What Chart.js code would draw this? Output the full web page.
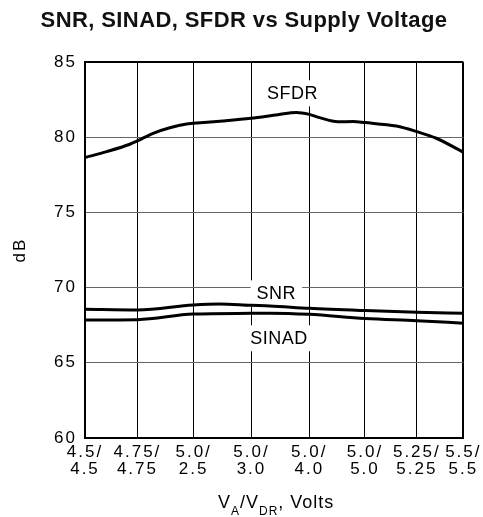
<!DOCTYPE html>
<html>
<head>
<meta charset="utf-8">
<script src="https://cdn.jsdelivr.net/npm/chart.js@4.4.1/dist/chart.umd.min.js"></script>
<style>
    html, body { margin: 0; padding: 0; background: #fff; }
    #wrap { width: 483px; height: 517px; }
</style>
</head>
<body>
<div id="wrap"><canvas id="chart" width="483" height="517"></canvas></div>
<script>
// x axis: supply voltage pairs V_A / V_DR (tick positions in axis units)
const xTickPos = [0, 0.97, 2.01, 3.08, 4.15, 5.18, 6.14, 7];
const xTickTop = ['4.5/', '4.75/', '5.0/', '5.0/', '5.0/', '5.0/', '5.25/', '5.5/'];
const xTickBottom = ['4.5', '4.75', '2.5', '3.0', '4.0', '5.0', '5.25', '5.5'];

// SFDR (dB)
const sfdrX = [0, 0.40, 0.83, 0.97, 1.26, 1.57, 1.88, 2.00, 2.55, 3.07, 3.57, 3.91, 4.15, 4.34, 4.68, 4.96, 5.18, 5.76, 6.14, 6.50, 7.00];
const sfdrY = [78.65, 79.04, 79.53, 79.75, 80.26, 80.63, 80.88, 80.92, 81.08, 81.26, 81.50, 81.65, 81.52, 81.30, 81.03, 81.04, 80.97, 80.74, 80.37, 79.93, 79.00];

// SNR (dB)
const snrX = [0, 0.97, 2.00, 2.49, 3.07, 3.42, 4.15, 5.18, 6.14, 7.00];
const snrY = [68.56, 68.51, 68.84, 68.91, 68.82, 68.78, 68.62, 68.47, 68.36, 68.29];

// SINAD (dB)
const sinadX = [0, 0.97, 2.00, 3.07, 3.42, 4.15, 5.18, 6.14, 7.00];
const sinadY = [67.85, 67.87, 68.24, 68.29, 68.30, 68.22, 67.94, 67.80, 67.63];

// curve labels, in axis units
const labelText = ['SFDR', 'SNR', 'SINAD'];
const labelX = [3.84, 3.54, 3.59];
const labelY = [82.92, 69.62, 66.63];

const titleText = 'SNR, SINAD, SFDR vs Supply Voltage';

const toPoints = (xs, ys) => xs.map((x, i) => ({ x, y: ys[i] }));
const FONT = '"Liberation Sans", Arial, Helvetica, sans-serif';

Chart.defaults.color = '#000';
Chart.defaults.font.family = FONT;

// the original uses loosely tracked Helvetica for axis text
const tracking = {
    id: 'tracking',
    beforeDraw(chart) {
        chart.ctx.letterSpacing = '2px';
    },
};

const chartTitle = {
    id: 'chartTitle',
    afterDraw(chart) {
        const { ctx } = chart;
        ctx.save();
        ctx.letterSpacing = '0.4px';
        ctx.font = 'bold 22px ' + FONT;
        ctx.fillStyle = '#111';
        ctx.textAlign = 'center';
        ctx.textBaseline = 'alphabetic';
        ctx.fillText(titleText, 244, 27);
        ctx.restore();
    },
};

const curveLabels = {
    id: 'curveLabels',
    beforeDatasetsDraw(chart) {
        const { ctx, scales } = chart;
        ctx.save();
        ctx.letterSpacing = '0.5px';
        ctx.font = '18px ' + FONT;
        ctx.textAlign = 'center';
        ctx.textBaseline = 'middle';
        labelText.forEach((t, i) => {
            const px = scales.x.getPixelForValue(labelX[i]);
            const py = scales.y.getPixelForValue(labelY[i]);
            const w = ctx.measureText(t).width;
            ctx.fillStyle = '#fff';
            ctx.fillRect(px - w / 2 - 6, py - 13, w + 12, 26);
            ctx.fillStyle = '#000';
            ctx.fillText(t, px, py + 1);
        });
        ctx.restore();
    },
};

// x axis title with subscripts: V_A/V_DR, Volts
const xAxisTitle = {
    id: 'xAxisTitle',
    afterDraw(chart) {
        const { ctx, chartArea } = chart;
        const big = '18px ' + FONT;
        const small = '12px ' + FONT;
        const parts = [
            ['V', big, 0], ['A', small, 7], ['/V', big, 0], ['DR', small, 7], [', Volts', big, 0],
        ];
        ctx.save();
        ctx.letterSpacing = '1px';
        ctx.fillStyle = '#000';
        ctx.textBaseline = 'alphabetic';
        ctx.textAlign = 'left';
        let total = 0;
        parts.forEach((p) => { ctx.font = p[1]; total += ctx.measureText(p[0]).width; });
        let x = (chartArea.left + chartArea.right) / 2 - total / 2 + 2;
        const y = 508;
        parts.forEach((p) => {
            ctx.font = p[1];
            ctx.fillText(p[0], x, y + p[2]);
            x += ctx.measureText(p[0]).width;
        });
        ctx.restore();
    },
};

const lineStyle = {
    borderColor: '#000',
    borderWidth: 3,
    pointRadius: 0,
    fill: false,
    cubicInterpolationMode: 'monotone',
};

new Chart(document.getElementById('chart'), {
    type: 'line',
    data: {
        datasets: [
            { label: 'SFDR', data: toPoints(sfdrX, sfdrY), ...lineStyle },
            { label: 'SNR', data: toPoints(snrX, snrY), ...lineStyle },
            { label: 'SINAD', data: toPoints(sinadX, sinadY), ...lineStyle },
        ],
    },
    options: {
        responsive: false,
        animation: false,
        layout: { padding: { left: 0, right: 19, top: 62, bottom: 0 } },
        plugins: {
            legend: { display: false },
            tooltip: { enabled: false },
            title: { display: false },
        },
        scales: {
            x: {
                type: 'linear',
                min: 0,
                max: 7,
                afterBuildTicks: (scale) => {
                    scale.ticks = xTickPos.map((v) => ({ value: v }));
                },
                afterFit: (scale) => { scale.height = 79; },
                ticks: {
                    autoSkip: false,
                    maxRotation: 0,
                    padding: 5.5,
                    font: { size: 17, lineHeight: 1.02 },
                    callback: (val, idx) => [xTickTop[idx], xTickBottom[idx]],
                },
                grid: {
                    drawTicks: false,
                    color: '#000',
                    lineWidth: (c) => (c.index === xTickPos.length - 1 ? 2 : 1),
                },
                border: { color: '#000', width: 2 },
            },
            y: {
                min: 60,
                max: 85,
                afterFit: (scale) => { scale.width = 85; },
                ticks: {
                    stepSize: 5,
                    padding: 8,
                    font: { size: 17 },
                },
                grid: {
                    drawTicks: false,
                    color: (c) => (c.tick && c.tick.value === 85 ? '#000' : '#666'),
                    lineWidth: (c) => (c.tick && c.tick.value === 85 ? 2 : 1),
                },
                border: { color: '#000', width: 2 },
                title: {
                    display: true,
                    text: 'dB',
                    font: { size: 17, lineHeight: 1.2 },
                    padding: { top: 10, bottom: 0 },
                },
            },
        },
    },
    plugins: [tracking, curveLabels, xAxisTitle, chartTitle],
});
</script>
</body>
</html>
